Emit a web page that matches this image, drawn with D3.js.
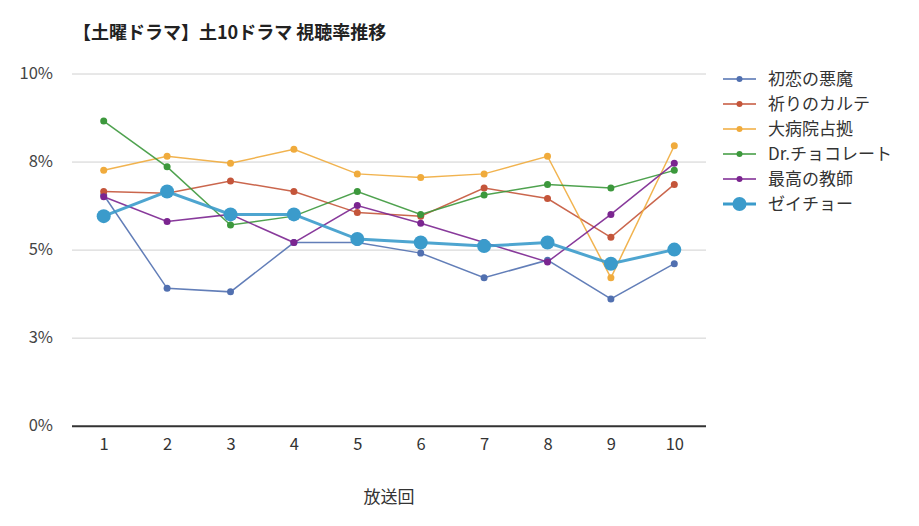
<!DOCTYPE html>
<html>
<head>
<meta charset="utf-8">
<script src="https://cdn.jsdelivr.net/npm/d3@7"></script>
<style>
  body { margin: 0; background: #fff; }
  text { font-family: "Noto Sans CJK JP", "Noto Sans", sans-serif; }
</style>
</head>
<body>
<div id="chart"></div>
<script>
// Data
const episodes = [1, 2, 3, 4, 5, 6, 7, 8, 9, 10]
const yTicks = [0, 2.5, 5, 7.5, 10]
const names = ['初恋の悪魔', '祈りのカルテ', '大病院占拠', 'Dr.チョコレート', '最高の教師', 'ゼイチョー']
const hatsukoi = [6.55, 3.9, 3.8, 5.2, 5.2, 4.9, 4.2, 4.7, 3.6, 4.6]
const inori = [6.65, 6.6, 6.95, 6.65, 6.05, 5.95, 6.75, 6.45, 5.35, 6.85]
const daibyoin = [7.25, 7.65, 7.45, 7.85, 7.15, 7.05, 7.15, 7.65, 4.2, 7.95]
const drChoco = [8.65, 7.35, 5.7, 5.95, 6.65, 6.0, 6.55, 6.85, 6.75, 7.25]
const saiko = [6.5, 5.8, 6.0, 5.2, 6.25, 5.75, 5.2, 4.65, 6.0, 7.45]
const zeicho = [5.95, 6.65, 6.0, 6.0, 5.3, 5.2, 5.1, 5.2, 4.6, 5.0]

const seriesValues = [hatsukoi, inori, daibyoin, drChoco, saiko, zeicho]
const colours = ['#5170b0', '#c4553a', '#f0ab3c', '#3c983c', '#7b2590', '#3b9bcb']

// Dimensions
let dimensions = {
  width: 919,
  height: 526,
  left: 72,
  right: 706,
  top: 73.5,
  bottom: 425.7
}

const svg = d3.select('#chart')
  .append('svg')
    .attr('width', dimensions.width)
    .attr('height', dimensions.height)

// Scales
const xScale = d3.scalePoint()
  .domain(episodes)
  .range([dimensions.left, dimensions.right])
  .padding(0.5)

const yScale = d3.scaleLinear()
  .domain([0, 10])
  .range([dimensions.bottom, dimensions.top])

// title
svg.append('text')
  .attr('x', 73)
  .attr('y', 39)
  .attr('font-size', 18)
  .attr('font-weight', 'bold')
  .attr('fill', '#222')
  .text('【土曜ドラマ】土10ドラマ 視聴率推移')

// grid + y labels
const yAxis = d3.axisLeft(yScale)
  .tickValues(yTicks)
  .tickSize(-(dimensions.right - dimensions.left))
  .tickFormat(d => Math.round(d) + '%')

const yG = svg.append('g')
  .attr('transform', `translate(${dimensions.left},0)`)
  .call(yAxis)
yG.select('.domain').remove()
yG.selectAll('.tick line')
  .attr('stroke', d => d === 0 ? '#333' : '#d0d0d0')
  .attr('stroke-width', d => d === 0 ? 2 : 1)
yG.selectAll('.tick text')
  .attr('x', -19)
  .attr('font-size', 16.5)
  .attr('fill', '#444')

// x labels
const xG = svg.append('g')
  .attr('transform', `translate(0,${dimensions.bottom})`)
  .call(d3.axisBottom(xScale).tickSize(0).tickPadding(13))
xG.select('.domain').remove()
xG.selectAll('.tick text')
  .attr('font-size', 16.5)
  .attr('fill', '#333')

svg.append('text')
  .attr('x', 389)
  .attr('y', 503)
  .attr('text-anchor', 'middle')
  .attr('font-size', 17)
  .attr('fill', '#333')
  .text('放送回')

// lines
const line = d3.line()
  .x((d, i) => xScale(episodes[i]))
  .y(d => yScale(d))

const ctr = svg.append('g')

seriesValues.forEach((vals, s) => {
  const big = s === 5
  const g = ctr.append('g')
  g.append('path')
    .datum(vals)
    .attr('d', line)
    .attr('fill', 'none')
    .attr('stroke', colours[s])
    .attr('stroke-width', big ? 3 : 1.5)
    .attr('stroke-opacity', 0.9)
  g.selectAll('circle')
    .data(vals)
    .join('circle')
    .attr('cx', (d, i) => xScale(episodes[i]))
    .attr('cy', d => yScale(d))
    .attr('r', big ? 7 : 3.5)
    .attr('fill', colours[s])
})

// legend
const legend = svg.append('g')
  .attr('transform', 'translate(723,79)')

const rows = legend.selectAll('g')
  .data(names)
  .join('g')
  .attr('transform', (d, i) => `translate(0,${i * 25})`)

rows.append('line')
  .attr('x1', 0)
  .attr('x2', 33)
  .attr('stroke', (d, i) => colours[i])
  .attr('stroke-width', (d, i) => i === 5 ? 3 : 1.5)
rows.append('circle')
  .attr('cx', 16.5)
  .attr('r', (d, i) => i === 5 ? 7 : 3)
  .attr('fill', (d, i) => colours[i])
rows.append('text')
  .attr('x', 45)
  .attr('dy', '0.35em')
  .attr('font-size', 17)
  .attr('fill', '#333')
  .text(d => d)
</script>
</body>
</html>
